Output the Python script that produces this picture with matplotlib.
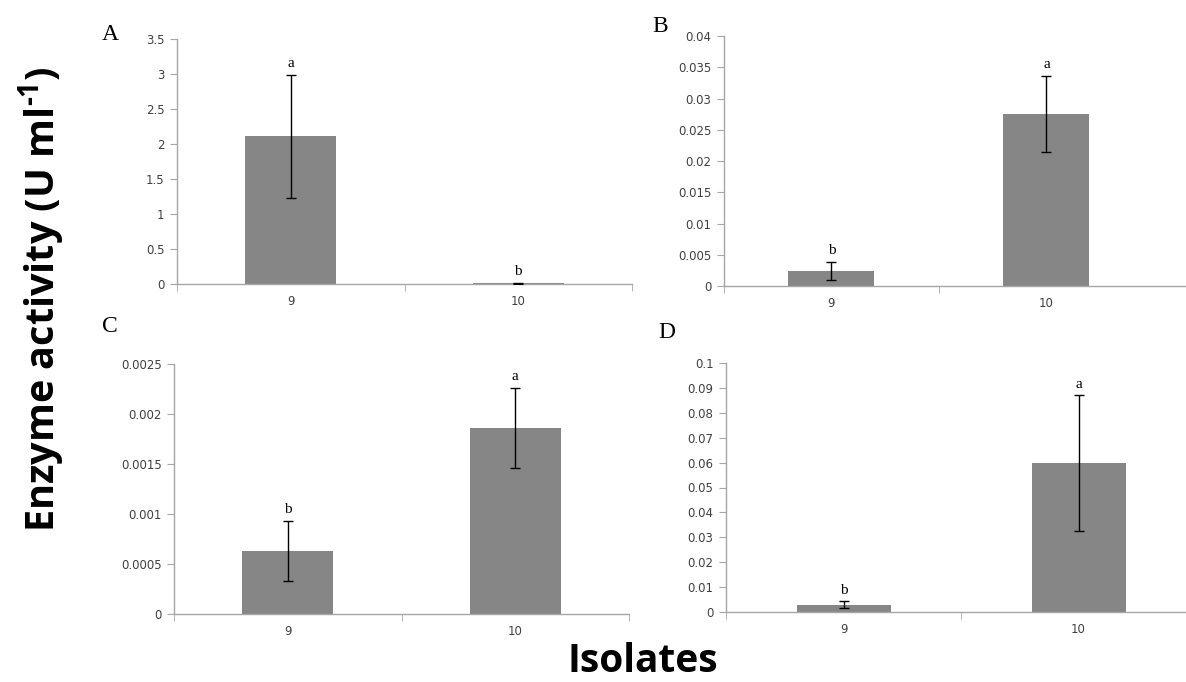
import numpy as np
import matplotlib
matplotlib.use("Agg")
import matplotlib.pyplot as plt

isolates = ["9", "10"]

# panel values
A_mean = [2.11, 0.01]
A_err = [0.88, 0.01]
B_mean = [0.0024, 0.0275]
B_err = [0.0015, 0.0061]
C_mean = [0.00063, 0.00186]
C_err = [0.0003, 0.0004]
D_mean = [0.0030, 0.0598]
D_err = [0.0013, 0.0273]

letters_A = ["a", "b"]
letters_B = ["b", "a"]
letters_C = ["b", "a"]
letters_D = ["b", "a"]

plt.rcParams["mathtext.fontset"] = "custom"
plt.rcParams["mathtext.rm"] = "Open Sans:bold"
plt.rcParams["mathtext.bf"] = "Open Sans:bold"

W, H = 1186, 682
fig = plt.figure(figsize=(W / 100, H / 100), dpi=100)

bar_color = "#868686"
axis_color = "#a6a6a6"
tick_color = "#404040"


def px_axes(left, top, right, bottom):
    return fig.add_axes([left / W, 1 - bottom / H, (right - left) / W, (bottom - top) / H])


def draw_panel(box, means, errs, letters, ymax, ystep, xmax, fmt, letter_offset=8):
    ax = px_axes(*box)
    x = np.arange(len(isolates))
    ax.bar(x, means, width=0.4, color=bar_color, zorder=2)
    ax.errorbar(x, means, yerr=errs, fmt="none", ecolor="black", elinewidth=1,
                capsize=3.5, capthick=1, zorder=3)
    for xi, m, e, lab in zip(x, means, errs, letters):
        ax.annotate(lab, (xi, m + e), xytext=(0, letter_offset), textcoords="offset points",
                    ha="center", va="center", fontsize=11, family="Liberation Serif")
    ax.set_xlim(-0.5, xmax)
    ax.set_ylim(0, ymax)
    ticks = np.arange(0, ymax + ystep / 2, ystep)
    ax.set_yticks(ticks)
    ax.set_yticklabels([fmt(t) for t in ticks])
    ax.set_xticks(x)
    ax.set_xticklabels(isolates)
    edges = [-0.5, 0.5] + ([1.5] if xmax == 1.5 else [])
    ax.set_xticks(edges, minor=True)
    ax.tick_params(axis="x", which="major", length=0, pad=8)
    ax.tick_params(axis="x", which="minor", length=5, direction="out", color=axis_color)
    ax.tick_params(axis="y", length=5, direction="out", color=axis_color, pad=4)
    ax.tick_params(labelsize=8.5, labelcolor=tick_color)
    for s in ["top", "right"]:
        ax.spines[s].set_visible(False)
    for s in ["left", "bottom"]:
        ax.spines[s].set_color(axis_color)
        ax.spines[s].set_linewidth(1)
    ax.patch.set_alpha(0)
    return ax


def fmt_g(v):
    s = f"{v:.4f}".rstrip("0").rstrip(".")
    return s if s else "0"


draw_panel((177, 39, 632, 284), A_mean, A_err, letters_A, 3.5, 0.5, 1.5, fmt_g)
draw_panel((724, 36, 1186, 286), B_mean, B_err, letters_B, 0.04, 0.005, 1.649, fmt_g)
draw_panel((174, 364, 629, 614), C_mean, C_err, letters_C, 0.0025, 0.0005, 1.5, fmt_g)
draw_panel((726, 363, 1186, 612), D_mean, D_err, letters_D, 0.1, 0.01, 1.457, fmt_g)

# panel letters
for lab, px, py in [("A", 110, 35), ("B", 660, 26), ("C", 110, 326), ("D", 667, 333)]:
    fig.text(px / W, 1 - py / H, lab, ha="center", va="center", fontsize=17,
             family="Liberation Serif")

fig.text(42 / W, 1 - 299 / H, "Enzyme activity (U ml$^{\\text{-1}}$)", rotation=90,
         ha="center", va="center", fontsize=28.5, fontweight="bold", family="Open Sans")
fig.text(643 / W, 1 - 662 / H, "Isolates", ha="center", va="center", fontsize=28,
         fontweight="bold", family="Open Sans")

fig.savefig("out.png", dpi=100)
